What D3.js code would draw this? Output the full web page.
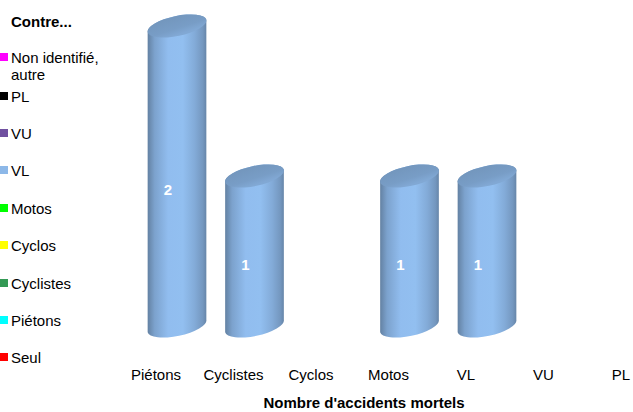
<!DOCTYPE html>
<html><head><meta charset="utf-8">
<script src="https://cdn.jsdelivr.net/npm/d3@7"></script>
<style>
body{margin:0;background:#fff;}
svg{display:block;font-family:"Liberation Sans",Arial,sans-serif;}
</style></head>
<body><svg id="c" width="633" height="412"></svg>
<script>
const categories = ["Piétons","Cyclistes","Cyclos","Motos","VL","VU","PL"];
const seriesNames = ["Seul","Piétons","Cyclistes","Cyclos","Motos","VL","VU","PL","Non identifié, autre"];
const seriesColors = ["#ff0000","#00ffff","#339955","#ffff00","#00ff00","#8db8e8","#7050a0","#000000","#ff00ff"];
const valSeul      = [0,0,0,0,0,0,0];
const valPietons   = [0,0,0,0,0,0,0];
const valCyclistes = [0,0,0,0,0,0,0];
const valCyclos    = [0,0,0,0,0,0,0];
const valMotos     = [0,0,0,0,0,0,0];
const valVL        = [2,1,0,1,1,0,0];
const valVU        = [0,0,0,0,0,0,0];
const valPL        = [0,0,0,0,0,0,0];
const valAutre     = [0,0,0,0,0,0,0];
const legendTitle = "Contre...";
const axisTitle = "Nombre d'accidents mortels";

const allVals = [valSeul,valPietons,valCyclistes,valCyclos,valMotos,valVL,valVU,valPL,valAutre];
const table = categories.map((c,i)=>{const o={cat:c};seriesNames.forEach((s,j)=>o[s]=allVals[j][i]);return o;});
const stack = d3.stack().keys(seriesNames)(table);

const svg = d3.select("#c");
const x = d3.scaleBand().domain(categories).range([117.25,659.75]).padding(0);
const y = d3.scaleLinear().domain([0,2]).range([326,26]);

const defs = svg.append("defs");
seriesColors.forEach((col,j)=>{
  const c = d3.color(col);
  const g = defs.append("linearGradient").attr("id","g"+j).attr("x1","0").attr("x2","1").attr("y1","0").attr("y2","0");
  [[0,c.darker(1.0)],[0.12,c.darker(0.35)],[0.35,c.brighter(0.08)],[0.6,c.brighter(0.1)],[0.8,c.darker(0.2)],[0.94,c.darker(0.55)],[1,c.darker(0.9)]]
   .forEach(([o,cc])=>g.append("stop").attr("offset",o).attr("stop-color",cc.formatHex()));
  const t = defs.append("linearGradient").attr("id","t"+j).attr("x1","0").attr("x2","0.3").attr("y1","0").attr("y2","1");
  t.append("stop").attr("offset",0).attr("stop-color",c.darker(0.6).formatHex());
  t.append("stop").attr("offset",0.7).attr("stop-color",c.darker(0.45).formatHex());
  t.append("stop").attr("offset",1).attr("stop-color",c.darker(0.25).formatHex());
});

const rx=30, ry=10, rot=-12, th=rot*Math.PI/180;
const dxE = rx*Math.cos(th), dyE = rx*Math.sin(th);
const shift = 21;

const gBars = svg.append("g");
stack.forEach((layer,j)=>{
  layer.forEach((d,i)=>{
    if(d[1]-d[0] <= 0) return;
    const cx = x(categories[i]) + x.bandwidth()/2 + shift;
    const yt = y(d[1]), yb = y(d[0]);
    const p = `M${cx-dxE},${yt-dyE} L${cx-dxE},${yb-dyE} A${rx},${ry} ${rot} 0 0 ${cx+dxE},${yb+dyE} L${cx+dxE},${yt+dyE} A${rx},${ry} ${rot} 0 0 ${cx-dxE},${yt-dyE} Z`;
    gBars.append("path").attr("d",p).attr("fill",`url(#g${j})`);
    gBars.append("ellipse").attr("cx",cx).attr("cy",yt).attr("rx",rx).attr("ry",ry)
      .attr("transform",`rotate(${rot},${cx},${yt})`).attr("fill",`url(#t${j})`);
    gBars.append("text").attr("x",cx-9).attr("y",(yt+yb)/2+19)
      .attr("text-anchor","middle").attr("fill","#fff").attr("font-weight","bold").attr("font-size",15)
      .text(d[1]-d[0]);
  });
});

// x axis labels
const ax = svg.append("g").attr("transform","translate(0,380)")
  .call(d3.axisBottom(x).tickSize(0).tickPadding(0));
ax.select(".domain").remove();
ax.selectAll("text").attr("font-size",15).attr("fill","#000").attr("dy",0)
  .attr("font-family","Liberation Sans, Arial, sans-serif");

svg.append("text").attr("x",364).attr("y",408).attr("text-anchor","middle")
  .attr("font-weight","bold").attr("font-size",15).text(axisTitle);

// legend
svg.append("text").attr("x",11).attr("y",27).attr("font-weight","bold").attr("font-size",15).text(legendTitle);
const legendOrder = seriesNames.map((s,j)=>j).reverse();
const legY = [63,102,139,176,214,251,289,326,363];
legendOrder.forEach((j,k)=>{
  const by = legY[k];
  svg.append("rect").attr("x",0).attr("y",by-10).attr("width",8).attr("height",8).attr("fill",seriesColors[j]);
  const parts = seriesNames[j].split(", ");
  const t = svg.append("text").attr("x",11).attr("y",by).attr("font-size",15);
  parts.forEach((p,pi)=>t.append("tspan").attr("x",11).attr("dy",pi?17:0).text(p+(pi<parts.length-1?",":"")));
});
</script></body></html>
